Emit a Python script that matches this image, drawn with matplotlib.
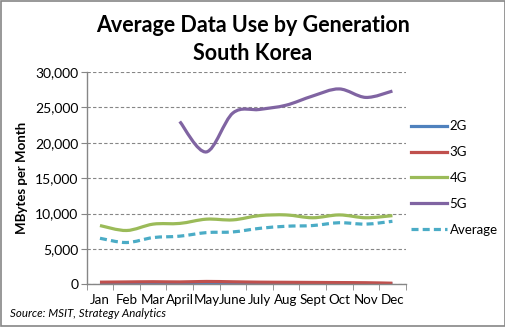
import matplotlib
matplotlib.use("Agg")
import matplotlib.pyplot as plt
import numpy as np
from matplotlib.lines import Line2D
from matplotlib.patches import PathPatch
from matplotlib.path import Path
from matplotlib.ticker import FuncFormatter

plt.rcParams["font.family"] = ["Lato", "DejaVu Sans"]

months = ["Jan", "Feb", "Mar", "April", "May", "June", "July", "Aug", "Sept", "Oct", "Nov", "Dec"]
gen_2g = [60, 60, 60, 60, 60, 60, 60, 60, 60, 60, 60, 60]
gen_3g = [300, 330, 360, 330, 400, 350, 300, 280, 260, 240, 220, 150]
gen_4g = [8300, 7600, 8500, 8600, 9200, 9100, 9700, 9800, 9400, 9800, 9400, 9700]
gen_5g = [None, None, None, 23000, 18700, 24200, 24700, 25300, 26600, 27600, 26400, 27300]
average = [6500, 5900, 6600, 6800, 7300, 7400, 7900, 8200, 8300, 8700, 8500, 8900]

series = [
    ("2G", gen_2g, "#4F81BD", "-"),
    ("3G", gen_3g, "#C0504D", "-"),
    ("4G", gen_4g, "#9BBB59", "-"),
    ("5G", gen_5g, "#8064A2", "-"),
    ("Average", average, "#4BACC6", (0, (2.2, 1.3))),
]


def smooth_path(xs, ys):
    """Excel-like smoothed line: Catmull-Rom converted to cubic bezier."""
    pts = np.column_stack([xs, ys]).astype(float)
    verts = [pts[0]]
    codes = [Path.MOVETO]
    n = len(pts)
    for i in range(n - 1):
        p0 = pts[max(i - 1, 0)]
        p1 = pts[i]
        p2 = pts[i + 1]
        p3 = pts[min(i + 2, n - 1)]
        c1 = p1 + (p2 - p0) / 6.0
        c2 = p2 - (p3 - p1) / 6.0
        verts += [c1, c2, p2]
        codes += [Path.CURVE4] * 3
    return Path(verts, codes)


fig = plt.figure(figsize=(5.06, 3.27), dpi=100)
ax = fig.add_axes([0.1713, 0.1306, 0.6305, 0.6494])

x = np.arange(1, len(months) + 1)
handles = []
for name, vals, color, ls in series:
    xs = [xi for xi, v in zip(x, vals) if v is not None]
    ys = [v for v in vals if v is not None]
    patch = PathPatch(smooth_path(xs, ys), facecolor="none", edgecolor=color,
                      linewidth=2.3, linestyle=ls, capstyle="butt")
    ax.add_patch(patch)
    handles.append(Line2D([], [], color=color, linewidth=2.3, linestyle=ls, label=name))

ax.set_xlim(0.5, 12.5)
ax.set_ylim(0, 30000)
ax.set_yticks(np.arange(0, 30001, 5000))
ax.yaxis.set_major_formatter(FuncFormatter(lambda v, p: f"{int(v):,}"))
ax.set_xticks(x)
ax.set_xticklabels(months)
ax.set_xticks(np.arange(0.5, 12.6, 1), minor=True)
ax.tick_params(axis="x", which="major", length=0, pad=7, labelsize=9.6)
ax.tick_params(axis="x", which="minor", length=4, color="#868686")
ax.tick_params(axis="y", length=4, color="#868686", labelsize=10, pad=2)

ax.grid(axis="y", color="#868686", linestyle=(0, (3, 2)), linewidth=0.8)
ax.set_axisbelow(True)
for side in ("top", "right"):
    ax.spines[side].set_visible(False)
for side in ("left", "bottom"):
    ax.spines[side].set_color("#868686")
    ax.spines[side].set_linewidth(1.0)

ax.set_ylabel("MBytes per Month", fontsize=9.5, fontweight="bold", labelpad=5)

fig.text(0.5, 0.878, "Average Data Use by Generation\nSouth Korea", ha="center", va="center",
         fontsize=15.5, fontweight="bold", linespacing=1.4)
fig.text(0.02, 0.04, "Source: MSIT, Strategy Analytics", fontsize=8.3, style="italic", va="center")

fig.legend(handles=handles, loc="upper left", bbox_to_anchor=(0.800, 0.652), frameon=False,
           fontsize=9.5, handlelength=2.7, handletextpad=0.2, labelspacing=1.05, borderpad=0)

fig.patches.append(plt.Rectangle((0.001, 0.002), 0.997, 0.995, transform=fig.transFigure,
                                 fill=False, edgecolor="#868686", linewidth=1.2))

fig.savefig("out.png", dpi=100)
